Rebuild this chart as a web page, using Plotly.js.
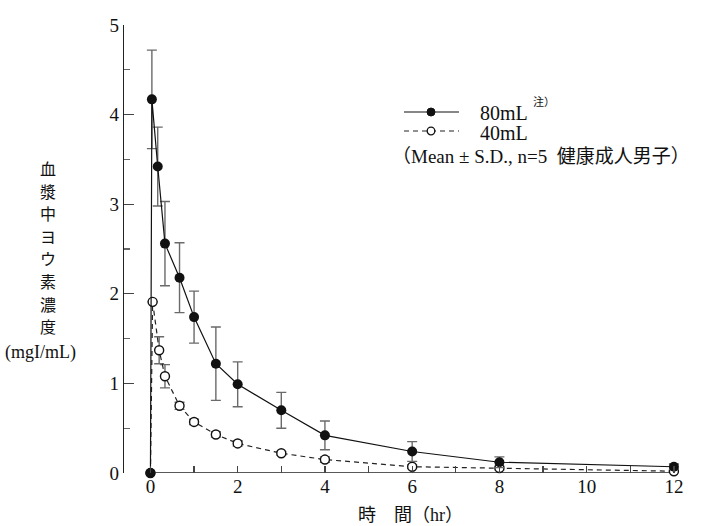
<!DOCTYPE html>
<html>
<head>
<meta charset="utf-8">
<script src="https://cdn.plot.ly/plotly-3.0.1.min.js"></script>
<style>html,body{margin:0;padding:0;background:#fff;}#chart{width:702px;height:526px;}</style>
</head>
<body>
<div id="chart"></div>
<script>
// Data
const time80 = [0, 0.033, 0.167, 0.333, 0.667, 1, 1.5, 2, 3, 4, 6, 8, 12];
const conc80 = [0, 4.17, 3.42, 2.56, 2.18, 1.74, 1.22, 0.99, 0.70, 0.42, 0.24, 0.12, 0.07];
const sd80   = [0, 0.55, 0.44, 0.47, 0.39, 0.29, 0.41, 0.25, 0.20, 0.16, 0.11, 0.06, 0.03];

const time40 = [0, 0.05, 0.2, 0.333, 0.667, 1, 1.5, 2, 3, 4, 6, 8, 12];
const conc40 = [0, 1.91, 1.37, 1.08, 0.75, 0.57, 0.43, 0.33, 0.22, 0.15, 0.07, 0.055, 0.02];
const sd40   = [0, 0, 0.15, 0.13, 0.04, 0.03, 0.03, 0.03, 0.02, 0.03, 0.02, 0.02, 0.01];

const seriesNames = ['80mL', '40mL'];
const xTickVals = [0, 2, 4, 6, 8, 10, 12];
const yTickVals = [0, 1, 2, 3, 4, 5];
const yTitleChars = ['血', '漿', '中', 'ヨ', 'ウ', '素', '濃', '度'];
const yUnit = '(mgI/mL)';
const xTitle = '時　間（hr）';
const noteText = '（Mean ± S.D., n=5  健康成人男子）';
const noteMark = '注）';

const SERIF = 'Liberation Serif, Noto Sans CJK JP, serif';
const CJK = 'Noto Sans CJK JP, sans-serif';

// plot geometry (pixels)
const W = 702, H = 526;
const L = 124, R = 15, T = 25, B = 53;
const pw = W - L - R, ph = H - T - B;
const px = v => (v - L) / pw;
const py = v => (H - B - v) / ph;

const errStyle = {type: 'data', visible: true, color: '#6a6a6a', thickness: 1.4, width: 5};

const trace40 = {
  x: time40, y: conc40, name: seriesNames[1], type: 'scatter', mode: 'lines+markers',
  line: {color: '#222', width: 1.2, dash: '5px,4px'},
  marker: {symbol: 'circle', size: 9, color: '#fff', line: {color: '#111', width: 1.4}},
  error_y: Object.assign({array: sd40}, errStyle),
  cliponaxis: false, showlegend: false
};
const trace80 = {
  x: time80, y: conc80, name: seriesNames[0], type: 'scatter', mode: 'lines+markers',
  line: {color: '#111', width: 1.2},
  marker: {symbol: 'circle', size: 10, color: '#111', line: {color: '#111', width: 0}},
  error_y: Object.assign({array: sd80}, errStyle),
  cliponaxis: false, showlegend: false
};

const shapes = [
  // x axis baseline from first to last time point
  {type: 'line', xref: 'x', yref: 'y', x0: Math.min(...time80), x1: Math.max(...time80), y0: 0, y1: 0,
   line: {color: '#222', width: 1.3}, layer: 'below'},
  // legend samples
  {type: 'line', xref: 'paper', yref: 'paper', x0: px(404), x1: px(459), y0: py(112), y1: py(112),
   line: {color: '#111', width: 1.2}},
  {type: 'circle', xref: 'paper', yref: 'paper', xsizemode: 'pixel', ysizemode: 'pixel',
   xanchor: px(431), yanchor: py(112), x0: -4, x1: 4, y0: -4, y1: 4,
   fillcolor: '#111', line: {color: '#111', width: 1}},
  {type: 'line', xref: 'paper', yref: 'paper', x0: px(404), x1: px(459), y0: py(131), y1: py(131),
   line: {color: '#222', width: 1.2, dash: '5px,4px'}},
  {type: 'circle', xref: 'paper', yref: 'paper', xsizemode: 'pixel', ysizemode: 'pixel',
   xanchor: px(431), yanchor: py(131), x0: -3.8, x1: 3.8, y0: -3.8, y1: 3.8,
   fillcolor: '#fff', line: {color: '#111', width: 1.3}}
];

const annotations = [
  {xref: 'paper', yref: 'paper', x: px(478), y: py(113), xanchor: 'left', yanchor: 'middle', showarrow: false,
   text: seriesNames[0], font: {family: SERIF, size: 20, color: '#111'}},
  {xref: 'paper', yref: 'paper', x: px(531), y: py(101), xanchor: 'left', yanchor: 'middle', showarrow: false,
   text: noteMark, font: {family: CJK, size: 11, color: '#111'}},
  {xref: 'paper', yref: 'paper', x: px(478), y: py(133), xanchor: 'left', yanchor: 'middle', showarrow: false,
   text: seriesNames[1], font: {family: SERIF, size: 20, color: '#111'}},
  {xref: 'paper', yref: 'paper', x: px(390), y: py(156), xanchor: 'left', yanchor: 'middle', showarrow: false,
   text: noteText, font: {family: SERIF, size: 19, color: '#111'}},
  {xref: 'paper', yref: 'paper', x: px(40), y: py(352), xanchor: 'center', yanchor: 'middle', showarrow: false,
   text: yUnit, font: {family: SERIF, size: 18, color: '#111'}},
  {xref: 'paper', yref: 'paper', x: px(410), y: py(515), xanchor: 'center', yanchor: 'middle', showarrow: false,
   text: xTitle, font: {family: SERIF, size: 18, color: '#111'}}
];
yTitleChars.forEach((ch, i) => {
  annotations.push({xref: 'paper', yref: 'paper', x: px(48), y: py(168 + i * 22.6), xanchor: 'center', yanchor: 'middle',
    showarrow: false, text: ch, font: {family: CJK, size: 16, color: '#111'}});
});

const layout = {
  width: W, height: H,
  margin: {l: L, r: R, t: T, b: B, pad: 0},
  paper_bgcolor: '#fff', plot_bgcolor: '#fff',
  showlegend: false,
  xaxis: {
    range: [-0.606, 12.3], tickmode: 'array', tickvals: xTickVals, ticktext: xTickVals.map(String),
    ticks: 'inside', ticklen: 7, tickwidth: 1.2, tickcolor: '#444',
    minor: {dtick: 1, tick0: 0, ticks: 'inside', ticklen: 7, tickwidth: 1.2, tickcolor: '#444'},
    showline: false, zeroline: false, showgrid: false,
    tickfont: {family: SERIF, size: 19, color: '#111'}
  },
  yaxis: {
    range: [0, 5], tickmode: 'array', tickvals: yTickVals, ticktext: yTickVals.map(String),
    ticks: 'inside', ticklen: 10, tickwidth: 1.2, tickcolor: '#444',
    minor: {dtick: 0.5, tick0: 0, ticks: 'inside', ticklen: 6, tickwidth: 1.2, tickcolor: '#666'},
    showline: true, linecolor: '#222', linewidth: 1.3, zeroline: false, showgrid: false,
    tickfont: {family: SERIF, size: 19, color: '#111'}
  },
  shapes: shapes,
  annotations: annotations
};

Plotly.newPlot('chart', [trace40, trace80], layout, {staticPlot: true, displayModeBar: false});
</script>
</body>
</html>
